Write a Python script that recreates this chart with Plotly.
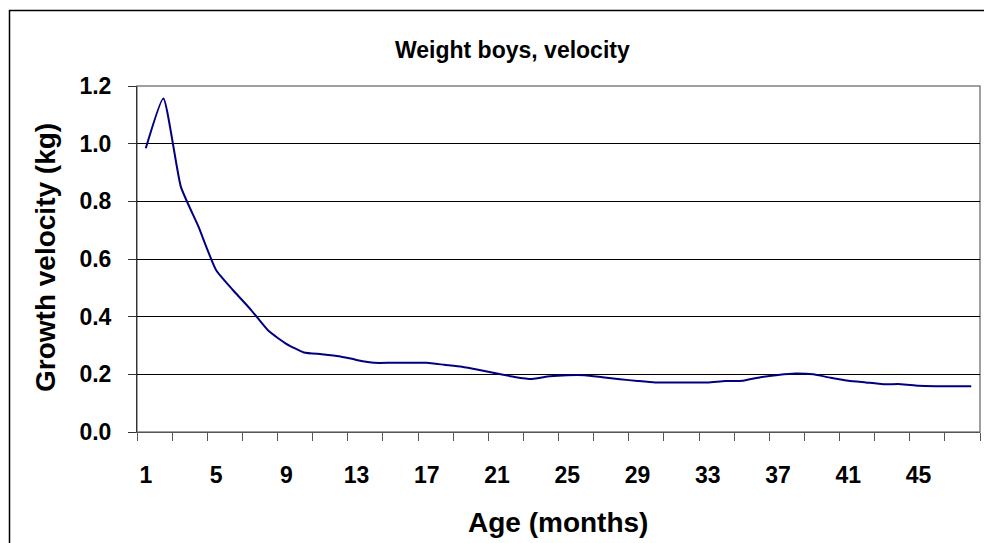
import plotly.graph_objects as go

# Age in months (category positions 1..48)
age_months = list(range(1, 49))
# Growth velocity (kg)
velocity_kg = [
    0.984, 1.157, 0.850, 0.712, 0.562, 0.490, 0.423, 0.350, 0.306, 0.276,
    0.270, 0.263, 0.250, 0.240, 0.240, 0.240, 0.240, 0.233, 0.226, 0.215,
    0.203, 0.191, 0.184, 0.193, 0.197, 0.197, 0.190, 0.183, 0.177, 0.172,
    0.172, 0.172, 0.172, 0.177, 0.178, 0.190, 0.198, 0.203, 0.200, 0.188,
    0.178, 0.172, 0.166, 0.166, 0.160, 0.159, 0.159, 0.159,
]
x_tick_labels = ["1", "5", "9", "13", "17", "21", "25", "29", "33", "37", "41", "45"]
y_tick_values = [0.0, 0.2, 0.4, 0.6, 0.8, 1.0, 1.2]

FONT = "Liberation Sans, Arial, sans-serif"

W, H = 984, 543
L, R, T, B = 137, W - 980, 86, H - 432
pw = W - L - R
ph = H - T - B

def px_x(p):
    return (p - L) / pw

def px_y(p):
    return (H - B - p) / ph

n = len(age_months)
x_min, x_max = 0.5, n + 0.5
label_vals = [int(s) for s in x_tick_labels]
minor_vals = [x_min + 2 * i for i in range(int((x_max - x_min) / 2) + 1)]

fig = go.Figure()
fig.add_trace(go.Scatter(
    x=age_months, y=velocity_kg, mode="lines",
    line=dict(color="#000080", width=2, shape="spline", smoothing=0.5),
    hoverinfo="x+y", showlegend=False,
))

tick_font = dict(family=FONT, size=23, color="black", weight="bold")

fig.update_layout(
    width=W, height=H,
    margin=dict(l=L, r=R, t=T, b=B, autoexpand=False),
    paper_bgcolor="white", plot_bgcolor="white",
    font=dict(family=FONT, color="black"),
    showlegend=False,
    xaxis=dict(
        range=[x_min, x_max], tickmode="array", tickvals=label_vals,
        ticktext=x_tick_labels, ticks="", showgrid=False, zeroline=False,
        showline=True, linecolor="#555555", linewidth=1, automargin=False,
        tickfont=tick_font,
        ticklabelstandoff=22,
        minor=dict(tickmode="array", tickvals=minor_vals, ticks="outside",
                   ticklen=8, tickcolor="#555555", tickwidth=1, showgrid=False),
    ),
    yaxis=dict(
        range=[0, 1.2], tickmode="array", tickvals=y_tick_values,
        ticktext=[f"{v:.1f}" for v in y_tick_values],
        ticks="outside", ticklen=8, tickcolor="#333333",
        showgrid=True, gridcolor="#000000", gridwidth=1, zeroline=False,
        showline=True, linecolor="#333333", linewidth=1, automargin=False,
        tickfont=tick_font,
        ticklabelstandoff=12,
    ),
)

# plot-area border (gray) and outer chart box (black)
fig.add_shape(type="rect", xref="paper", yref="paper", x0=0, y0=0, x1=1, y1=1,
              line=dict(color="#808080", width=1.5), layer="below")
fig.add_shape(type="rect", xref="paper", yref="paper",
              x0=px_x(9.5), y0=px_y(560), x1=px_x(1000), y1=px_y(10.5),
              line=dict(color="black", width=1.5), layer="below")

ann_common = dict(xref="paper", yref="paper", showarrow=False,
                  xanchor="center", yanchor="middle")
fig.add_annotation(text="<b>Weight boys, velocity</b>",
                   x=px_x(512), y=px_y(50),
                   font=dict(family=FONT, size=23, color="black"), **ann_common)
fig.add_annotation(text="<b>Age (months)</b>",
                   x=px_x(558), y=px_y(522),
                   font=dict(family=FONT, size=28, color="black"), **ann_common)
fig.add_annotation(text="<b>Growth velocity (kg)</b>",
                   x=px_x(45), y=px_y(258), textangle=-90,
                   font=dict(family=FONT, size=28, color="black"), **ann_common)

# remove the page's default body margin / scrollbars so the figure fills the window
fig.write_html(
    "out.html",
    config={"displayModeBar": False},
    post_script="document.body.style.margin='0';document.body.style.overflow='hidden';"
                "document.documentElement.style.overflow='hidden';",
)
